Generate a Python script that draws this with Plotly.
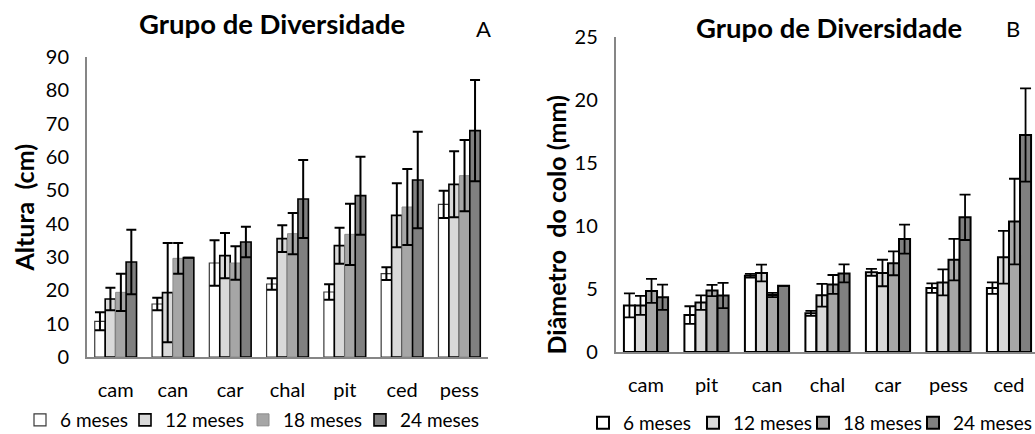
import plotly.graph_objects as go

# ---------------- data ----------------
series_names = ["6 meses", "12 meses", "18 meses", "24 meses"]

cats_a = ["cam", "can", "car", "chal", "pit", "ced", "pess"]
a_6 = [10.7, 15.9, 28.2, 21.9, 19.5, 25.0, 45.8]
a_6_err = [2.7, 1.9, 6.8, 1.7, 2.3, 1.9, 4.1]
a_12 = [17.4, 19.3, 30.4, 35.5, 33.4, 42.5, 51.8]
a_12_err = [3.4, 14.9, 6.8, 4.0, 5.4, 9.6, 9.9]
a_18 = [19.4, 29.6, 28.2, 37.0, 36.8, 45.0, 54.4]
a_18_err = [5.6, 4.6, 5.0, 6.2, 9.2, 11.4, 10.7]
a_24 = [28.5, 29.8, 34.5, 47.4, 48.4, 53.1, 67.9]
a_24_err = [9.7, 0.0, 4.6, 11.7, 11.7, 14.5, 15.2]

cats_b = ["cam", "pit", "can", "chal", "car", "pess", "ced"]
b_6 = [3.7, 2.93, 6.05, 3.07, 6.32, 5.07, 5.07]
b_6_err = [0.95, 0.7, 0.15, 0.2, 0.27, 0.37, 0.45]
b_12 = [3.7, 3.92, 6.27, 4.5, 6.27, 5.52, 7.52]
b_12_err = [0.75, 0.58, 0.67, 0.9, 1.05, 1.03, 2.1]
b_18 = [4.85, 4.88, 4.53, 5.36, 7.04, 7.33, 10.35]
b_18_err = [0.95, 0.45, 0.17, 0.75, 0.95, 1.65, 3.4]
b_24 = [4.35, 4.48, 5.25, 6.24, 8.96, 10.69, 17.22]
b_24_err = [1.0, 1.0, 0.0, 0.72, 1.15, 1.8, 3.7]

title_text = "Grupo de Diversidade"
ytitle_a = "Altura\u00a0 (cm)"
ytitle_b = "Diâmetro\u00a0 do colo (mm)"

# ---------------- styles ----------------
FONT = "Lato, 'Open Sans', sans-serif"
fills = ["#FFFFFF", "#D9D9D9", "#A6A6A6", "#808080"]
lines_a = [("#3a3a3a", 1.2), ("#000000", 1.6), ("#8c8c8c", 1.0), ("#000000", 1.6)]
axis_color = "#868686"
legw_a = [60, 73, 72, 80]
legw_b = [65, 65, 65, 76]

fig = go.Figure()

vals_a = [(a_6, a_6_err), (a_12, a_12_err), (a_18, a_18_err), (a_24, a_24_err)]
for i, (v, e) in enumerate(vals_a):
    fig.add_trace(go.Bar(
        x=cats_a, y=v, name=series_names[i],
        marker=dict(color=fills[i], line=dict(color=lines_a[i][0], width=lines_a[i][1])),
        error_y=dict(type="data", array=e, visible=True, color="#000000", thickness=2, width=5),
        xaxis="x", yaxis="y", legend="legend", legendwidth=legw_a[i],
    ))

vals_b = [(b_6, b_6_err), (b_12, b_12_err), (b_18, b_18_err), (b_24, b_24_err)]
for i, (v, e) in enumerate(vals_b):
    fig.add_trace(go.Bar(
        x=cats_b, y=v, name=series_names[i],
        marker=dict(color=fills[i], line=dict(color="#000000", width=2)),
        error_y=dict(type="data", array=e, visible=True, color="#000000", thickness=1.8, width=5.5),
        xaxis="x2", yaxis="y2", legend="legend2", legendwidth=legw_b[i],
    ))

W, H = 1035, 434
def px(x):
    return x / W
def py(y):
    return (H - y) / H

tickfont = dict(family=FONT, size=20, color="#000000")
common_x = dict(showline=True, linecolor=axis_color, linewidth=2, showgrid=False, zeroline=False,
                ticks="", tickfont=tickfont, ticklabelstandoff=14, fixedrange=True)
common_y = dict(showline=True, linecolor=axis_color, linewidth=2, showgrid=False, zeroline=False,
                ticks="", tickfont=tickfont, ticklabelstandoff=12, fixedrange=True)

fig.update_layout(
    width=W, height=H,
    margin=dict(l=0, r=0, t=0, b=0, autoexpand=False),
    paper_bgcolor="#FFFFFF", plot_bgcolor="#FFFFFF",
    barmode="group", bargap=0.27, bargroupgap=0,
    font=dict(family=FONT, color="#000000"),
    xaxis=dict(domain=[px(87), px(488)], range=[-0.5, 6.5], anchor="y", **common_x),
    yaxis=dict(domain=[py(357), py(57)], range=[0, 90], dtick=10, anchor="x", **common_y),
    xaxis2=dict(domain=[px(615.75), 1.0], range=[-0.5, 6.43], anchor="y2", **common_x),
    yaxis2=dict(domain=[py(352), py(37)], range=[0, 25], dtick=5, anchor="x2", **common_y),
    legend=dict(orientation="h", x=px(20), y=py(420), xanchor="left", yanchor="middle",
                font=dict(family=FONT, size=19), itemwidth=30,
                bgcolor="rgba(0,0,0,0)", tracegroupgap=0),
    legend2=dict(orientation="h", x=px(583), y=py(423), xanchor="left", yanchor="middle",
                 font=dict(family=FONT, size=19), itemwidth=30,
                 bgcolor="rgba(0,0,0,0)", tracegroupgap=0),
    annotations=[
        dict(text="<b>%s</b>" % title_text, x=px(272), y=py(23), xref="paper", yref="paper",
             showarrow=False, xanchor="center", yanchor="middle", font=dict(family=FONT, size=27.5)),
        dict(text="A", x=px(483), y=py(28), xref="paper", yref="paper",
             showarrow=False, xanchor="center", yanchor="middle", font=dict(family=FONT, size=22)),
        dict(text="<b>%s</b>" % title_text, x=px(829), y=py(27), xref="paper", yref="paper",
             showarrow=False, xanchor="center", yanchor="middle", font=dict(family=FONT, size=27.5)),
        dict(text="B", x=px(1013), y=py(28), xref="paper", yref="paper",
             showarrow=False, xanchor="center", yanchor="middle", font=dict(family=FONT, size=22)),
        dict(text="<b>%s</b>" % ytitle_a, x=px(23.5), y=py(208), xref="paper", yref="paper",
             showarrow=False, xanchor="center", yanchor="middle", textangle=-90,
             font=dict(family=FONT, size=25)),
        dict(text="<b>%s</b>" % ytitle_b, x=px(555.5), y=py(225), xref="paper", yref="paper",
             showarrow=False, xanchor="center", yanchor="middle", textangle=-90,
             font=dict(family=FONT, size=25)),
    ],
)

fig.write_html("out.html", config={"displayModeBar": False},
               post_script="document.body.style.margin='0';document.body.style.overflow='hidden';")
